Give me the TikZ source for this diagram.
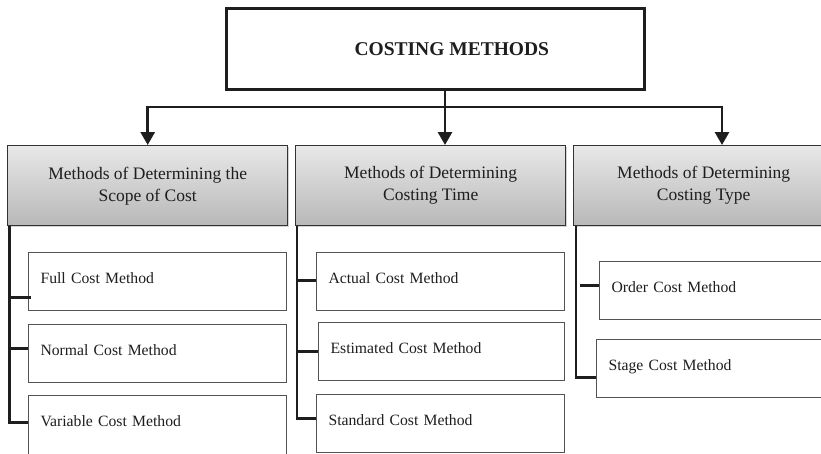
\documentclass[tikz,border=0pt]{standalone}
\usepackage{fontspec}
\setmainfont{Liberation Serif}
\usetikzlibrary{arrows.meta,shadows}
\definecolor{ink}{HTML}{1E1E1E}
\begin{document}
\begin{tikzpicture}[x=1pt,y=-1pt,
  topbox/.style={draw=ink, line width=2.6pt, fill=white, text=ink,
    font=\fontsize{19.5}{23}\selectfont\bfseries, anchor=north west},
  headbox/.style={draw=gray!40!black, line width=1.4pt, top color=gray!18, bottom color=gray!56,
    font=\fontsize{17.5}{22}\selectfont, align=center, text=ink, inner sep=0pt,
    anchor=north west, minimum height=80pt,
    drop shadow={shadow xshift=1.2pt, shadow yshift=-1.5pt, opacity=0.35, fill=gray}},
  itembox/.style={draw=gray!65!black, line width=1.1pt, fill=white, text=ink,
    font=\fontsize{15.7}{19}\selectfont, align=left, inner xsep=12pt, inner ysep=0pt,
    text depth=7pt, anchor=north west, minimum height=58pt},
  conn/.style={draw=ink, line width=2.8pt},
  arr/.style={conn, -{Triangle[width=14pt,length=13pt]}}]
\clip (0,0) rectangle (821,453);
\fill[white] (0,0) rectangle (821,453);

% top
\node[topbox, minimum width=418pt, minimum height=81pt] (top) at (225,7) {\hspace*{33pt}COSTING METHODS};

% headers
\node[headbox, minimum width=280pt] (h1) at (7,145) {Methods of Determining the\\Scope of Cost};
\node[headbox, minimum width=270pt] (h2) at (295,145) {Methods of Determining\\Costing Time};
\node[headbox, minimum width=260pt] (h3) at (573,145) {Methods of Determining\\Costing Type};

% items
\node[itembox, minimum width=258pt, text width=234pt] (f1) at (28,252) {Full Cost Method};
\node[itembox, minimum width=258pt, text width=234pt] (n1) at (28,324) {Normal Cost Method};
\node[itembox, minimum width=258pt, text width=234pt, minimum height=62pt, text depth=11pt] (v1) at (28,395) {Variable Cost Method};
\node[itembox, minimum width=248pt, text width=224pt] (a2) at (316,252) {Actual Cost Method};
\node[itembox, minimum width=246pt, text width=222pt] (e2) at (318,322) {Estimated Cost Method};
\node[itembox, minimum width=248pt, text width=224pt] (s2) at (316,394) {Standard Cost Method};
\node[itembox, minimum width=250pt, text width=226pt] (o3) at (599,261) {Order Cost Method};
\node[itembox, minimum width=250pt, text width=226pt] (g3) at (596,339) {Stage Cost Method};

% top connectors
\coordinate (J) at (445,107);
\coordinate (R) at (722,107);
\draw[conn] (top.south -| J) -- (J);
\draw[arr] (J) -- (h2.north -| J);
\draw[arr] (J) -| (h1.north);
\draw[arr] (J) -- (R) -- (h3.north -| R);

% left column
\coordinate (L1) at ([xshift=2.5pt]h1.south west);
\coordinate (fb) at ([yshift=-16pt]f1.west);
\coordinate (nb) at ([yshift=5pt]n1.west);
\coordinate (vb) at ([yshift=4pt]v1.west);
\draw[conn] (L1) |- (vb);
\draw[conn] (L1 |- fb) -- ([xshift=3pt]fb);
\draw[conn] (L1 |- nb) -- (nb);

% middle column
\coordinate (L2) at ([xshift=2pt]h2.south west);
\coordinate (ab) at ([yshift=1pt]a2.west);
\coordinate (eb) at (e2.west);
\coordinate (sb) at ([yshift=5pt]s2.west);
\draw[conn] (L2) |- (sb);
\draw[conn] (L2 |- ab) -- (ab);
\draw[conn] (L2 |- eb) -- (eb);

% right column
\coordinate (L3) at ([xshift=3pt]h3.south west);
\coordinate (ob) at ([yshift=5pt]o3.west);
\coordinate (gb) at ([yshift=-9pt]g3.west);
\draw[conn] (L3) |- (gb);
\draw[conn] ([xshift=4pt]L3 |- ob) -- (ob);
\end{tikzpicture}
\end{document}
